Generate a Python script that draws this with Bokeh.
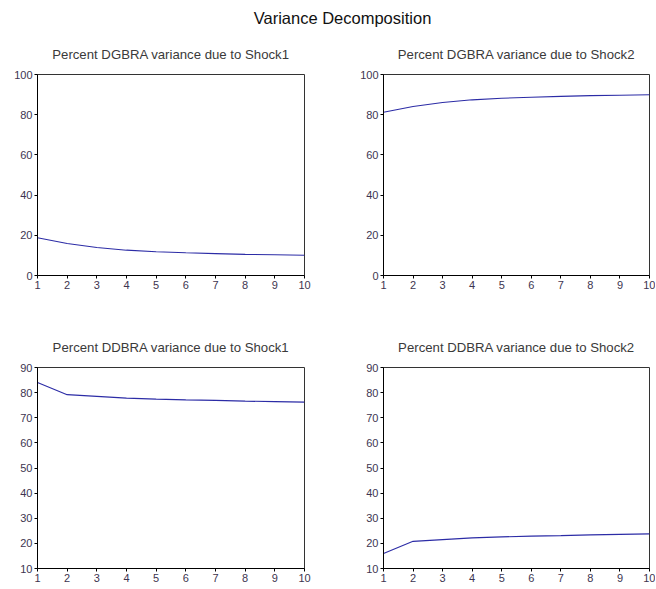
from bokeh.plotting import figure
from bokeh.layouts import column, row
from bokeh.models import Div, FixedTicker, Range1d
from bokeh.embed import file_html
from bokeh.resources import INLINE

periods = [1, 2, 3, 4, 5, 6, 7, 8, 9, 10]
dgbra_shock1 = [18.8, 15.9, 13.9, 12.6, 11.8, 11.3, 10.9, 10.5, 10.3, 10.1]
dgbra_shock2 = [81.2, 84.1, 86.1, 87.4, 88.2, 88.7, 89.1, 89.5, 89.7, 89.9]
ddbra_shock1 = [84.0, 79.2, 78.5, 77.8, 77.4, 77.1, 76.9, 76.6, 76.4, 76.2]
ddbra_shock2 = [16.0, 20.8, 21.5, 22.2, 22.6, 22.9, 23.1, 23.4, 23.6, 23.8]
titles = [
    "Percent DGBRA variance due to Shock1",
    "Percent DGBRA variance due to Shock2",
    "Percent DDBRA variance due to Shock1",
    "Percent DDBRA variance due to Shock2",
]
main_title = "Variance Decomposition"
y_ticks_top = [0, 20, 40, 60, 80, 100]
y_ticks_bottom = [10, 20, 30, 40, 50, 60, 70, 80, 90]

FONT = "Liberation Sans"
LINE_COLOR = "#2c2ca6"
TICK_COLOR = "#3d3550"
TITLE_COLOR = "#3a3a3a"


def panel(title, ys, yticks, ymin, ymax, width, height, left, right, top, bottom):
    p = figure(width=width, height=height, output_backend="svg",
               toolbar_location=None, x_range=Range1d(1, 10),
               y_range=Range1d(ymin, ymax), title=title,
               min_border_left=left, min_border_right=right,
               min_border_top=top, min_border_bottom=bottom)
    p.line(periods, ys, line_color=LINE_COLOR, line_width=1.1)
    p.xgrid.visible = False
    p.ygrid.visible = False
    p.xaxis.ticker = FixedTicker(ticks=periods)
    p.yaxis.ticker = FixedTicker(ticks=yticks)
    for ax in (p.xaxis[0], p.yaxis[0]):
        ax.major_tick_in = 0
        ax.major_tick_out = 3
        ax.minor_tick_in = 0
        ax.minor_tick_out = 0
        ax.axis_line_color = "black"
        ax.major_tick_line_color = "black"
        ax.major_label_text_font = FONT
        ax.major_label_text_font_size = "11px"
        ax.major_label_text_color = TICK_COLOR
        ax.major_label_standoff = 2
    p.outline_line_color = "#333333"
    p.outline_line_alpha = 1.0
    p.title.align = "center"
    p.title.text_font = FONT
    p.title.text_font_size = "13.2px"
    p.title.text_font_style = "normal"
    p.title.text_color = TITLE_COLOR
    p.title.standoff = 25
    return p


p1 = panel(titles[0], dgbra_shock1, y_ticks_top, 0, 100, 328, 293, 37, 24, 38, 50)
p2 = panel(titles[1], dgbra_shock2, y_ticks_top, 0, 100, 327, 293, 55, 6, 38, 50)
p3 = panel(titles[2], ddbra_shock1, y_ticks_bottom, 10, 90, 328, 264, 37, 24, 38, 21)
p4 = panel(titles[3], ddbra_shock2, y_ticks_bottom, 10, 90, 327, 264, 55, 6, 38, 21)

head = Div(text=main_title, width=655, height=25, margin=(7, 0, 0, 0),
           styles={"text-align": "center", "font-family": FONT,
                   "font-size": "16.5px", "color": "#111111",
                   "padding-left": "30px", "box-sizing": "border-box",
                   "width": "655px"})

layout = column(head, row(p1, p2, spacing=0), row(p3, p4, spacing=0), spacing=0)

open("out.html", "w").write(file_html(layout, INLINE))
